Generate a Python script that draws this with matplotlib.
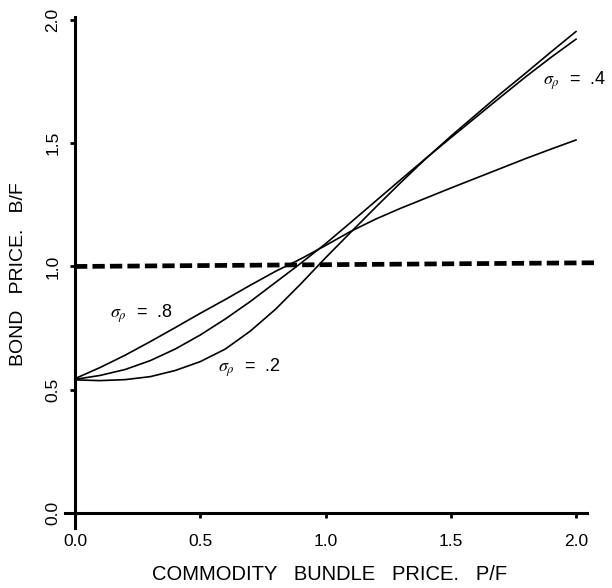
import matplotlib
matplotlib.use("Agg")
import matplotlib.pyplot as plt

plt.rcParams['font.family'] = ['Liberation Sans', 'DejaVu Sans']
plt.rcParams['mathtext.fontset'] = 'stix'

# Commodity bundle price P/F
x_vals = [0.0, 0.1, 0.2, 0.3, 0.4, 0.5, 0.6, 0.7, 0.8, 0.9, 1.0,
          1.1, 1.2, 1.3, 1.4, 1.5, 1.6, 1.7, 1.8, 1.9, 2.0]
# Bond price B/F for the three volatilities
bond_s08 = [0.545, 0.590, 0.640, 0.695, 0.752, 0.810, 0.866, 0.924, 0.980, 1.030, 1.085,
            1.142, 1.192, 1.236, 1.277, 1.318, 1.358, 1.398, 1.438, 1.476, 1.513]
bond_s04 = [0.542, 0.558, 0.582, 0.618, 0.665, 0.722, 0.787, 0.858, 0.935, 1.012, 1.092,
            1.178, 1.265, 1.352, 1.438, 1.522, 1.605, 1.688, 1.770, 1.848, 1.922]
bond_s02 = [0.540, 0.537, 0.541, 0.553, 0.578, 0.614, 0.665, 0.738, 0.826, 0.928, 1.035,
            1.138, 1.240, 1.340, 1.437, 1.528, 1.615, 1.702, 1.785, 1.870, 1.953]
# Riskless bond reference (dashed)
dash_x = [0.0, 2.08]
dash_y = [1.0, 1.015]

tick_vals = [0.0, 0.5, 1.0, 1.5, 2.0]
tick_labels = ["0.0", "0.5", "1.0", "1.5", "2.0"]

labels = [r"$\sigma_\rho$  =  .8", r"$\sigma_\rho$  =  .2", r"$\sigma_\rho$  =  .4"]
label_pos = [(0.14, 0.81), (0.57, 0.59), (1.87, 1.755)]

fig = plt.figure(figsize=(6.12, 5.88), dpi=100)
ax = fig.add_axes([0.1062, 0.1024, 0.8534, 0.8679])

lw = 1.2
ax.plot(x_vals, bond_s08, color='black', lw=lw, solid_joinstyle='round')
ax.plot(x_vals, bond_s04, color='black', lw=lw, solid_joinstyle='round')
ax.plot(x_vals, bond_s02, color='black', lw=lw, solid_joinstyle='round')
ax.plot(dash_x, dash_y, color='black', lw=3.4, dashes=(2.6, 1.1), clip_on=False)

for (tx, ty), t in zip(label_pos, labels):
    ax.text(tx, ty, t, fontsize=13, ha='left', va='center')

ax.set_xlim(-0.04, 2.045)
ax.set_ylim(-0.06, 2.01)

for s in ['top', 'right']:
    ax.spines[s].set_visible(False)
ax.spines['left'].set_position(('data', 0))
ax.spines['bottom'].set_position(('data', 0))
ax.spines['left'].set_linewidth(2.2)
ax.spines['bottom'].set_linewidth(2.2)

ax.set_xticks(tick_vals)
ax.set_xticklabels(tick_labels, fontsize=12.5)
ax.set_yticks(tick_vals)
ax.set_yticklabels(tick_labels, fontsize=12.5, rotation=90, va='center')
ax.tick_params(axis='x', direction='out', length=3.5, width=2, pad=11.5)
ax.tick_params(axis='y', direction='out', length=3.5, width=2, pad=7)

fig.text(330/612, 1 - 575/588, "COMMODITY   BUNDLE   PRICE.   P/F", fontsize=14.5,
         ha='center', va='center')
fig.text(19/612, 1 - 274/588, "BOND   PRICE.   B/F", fontsize=14,
         ha='center', va='center', rotation=90)

fig.savefig("out.png", dpi=100)
